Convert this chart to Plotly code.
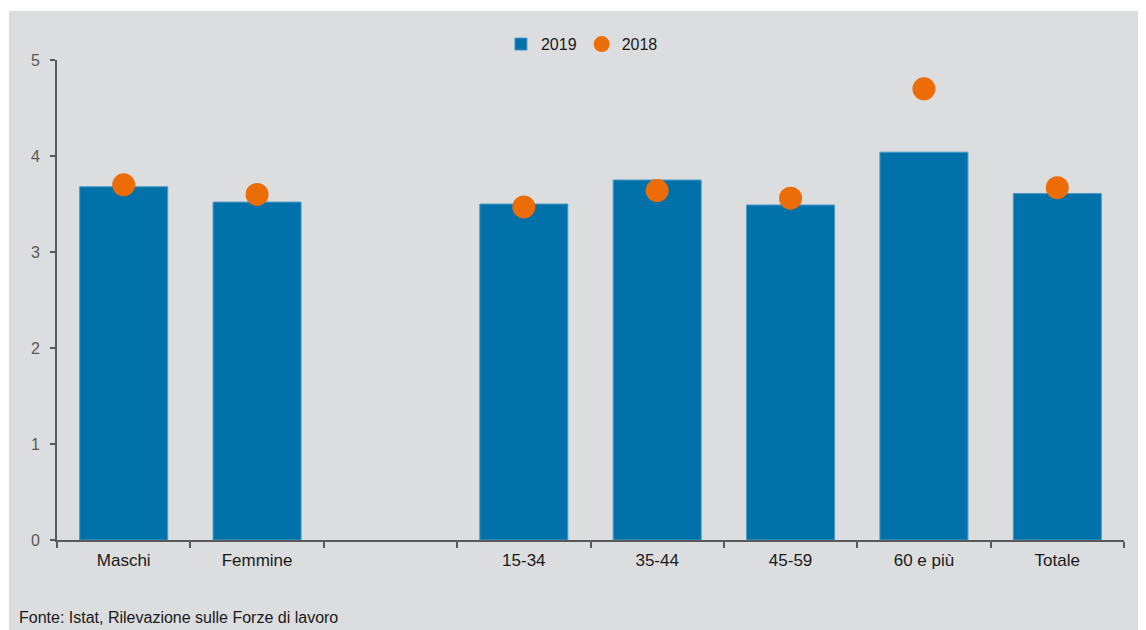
import plotly.graph_objects as go

background_color = "#dcdddf"
bar_color = "#0072a9"
dot_color = "#ec6c08"
axis_color = "#595959"

categories = ["Maschi", "Femmine", " ", "15-34", "35-44", "45-59", "60 e più", "Totale"]
values_2019 = [3.68, 3.52, None, 3.50, 3.75, 3.49, 4.04, 3.61]
values_2018 = [3.70, 3.60, None, 3.47, 3.64, 3.56, 4.70, 3.67]
source_note = "Fonte: Istat, Rilevazione sulle Forze di lavoro"

fig = go.Figure()
fig.add_trace(go.Bar(
    x=categories, y=values_2019, name="2019",
    marker={"color": bar_color, "line": {"color": "#4d9bc6", "width": 1}}))
fig.add_trace(go.Scatter(
    x=categories, y=values_2018, name="2018", mode="markers",
    marker={"color": dot_color, "size": 23}))

# grey panel behind everything
fig.add_shape(type="rect", xref="paper", yref="paper",
              x0=-0.045, x1=1.05, y0=-0.3, y1=1.102,
              fillcolor=background_color, line={"width": 0}, layer="below")

fig.add_annotation(text=source_note, xref="paper", yref="paper",
                   x=-0.0375, y=-0.183, xanchor="left", yanchor="bottom",
                   showarrow=False, font={"size": 16, "color": "#1a1a1a"})

fig.update_layout(
    width=1146, height=630,
    margin={"l": 49, "r": 30, "t": 52, "b": 98},
    paper_bgcolor="white", plot_bgcolor="rgba(0,0,0,0)",
    font={"family": "Liberation Sans, Arial, sans-serif"},
    bargap=0.34,
    showlegend=True,
    legend={"orientation": "h", "x": 0.492, "xanchor": "center",
            "y": 1.033, "yanchor": "middle",
            "font": {"size": 16, "color": "#1a1a1a"},
            "bgcolor": "rgba(0,0,0,0)", "itemwidth": 30},
)

fig.update_xaxes(
    type="category", range=[-0.5, 7.5],
    showgrid=False, showline=True, linewidth=2, linecolor=axis_color,
    ticks="outside", tickson="boundaries", ticklen=6, tickwidth=2, tickcolor=axis_color,
    ticklabelstandoff=4,
    tickfont={"size": 17, "color": "#1a1a1a"})

fig.update_yaxes(
    range=[0, 5], dtick=1, showgrid=False, zeroline=False,
    showline=True, linewidth=2, linecolor=axis_color,
    ticks="outside", ticklen=5, tickwidth=2, tickcolor=axis_color,
    ticklabelstandoff=7,
    tickfont={"size": 16, "color": axis_color})

fig.write_html("out.html")
